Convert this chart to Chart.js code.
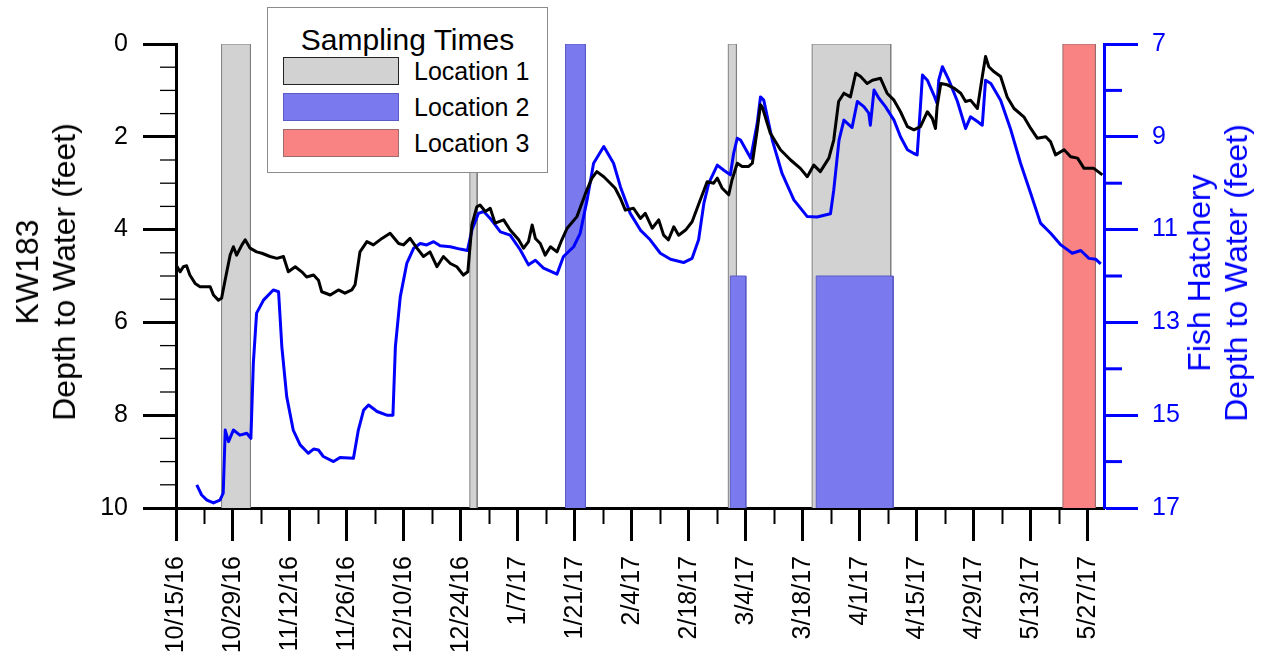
<!DOCTYPE html>
<html>
<head>
<meta charset="utf-8">
<script src="https://cdn.jsdelivr.net/npm/chart.js@4.4.1/dist/chart.umd.min.js"></script>
<style>
  body { margin: 0; background: #fff; font-family: 'Liberation Sans', Arial, sans-serif; }
  #wrap { position: relative; width: 1266px; height: 657px; overflow: hidden; }
  .ytitle {
    position: absolute; transform: translate(-50%, -50%) rotate(-90deg);
    white-space: nowrap; text-align: center; font-size: 32px; line-height: 37px;
  }
  #legend {
    position: absolute; left: 267px; top: 7px; width: 281px; height: 166px;
    border: 1px solid #8c8c8c; background: #fff; box-sizing: border-box;
  }
  #legend .title { position: absolute; left: 0; top: 15px; width: 100%; text-align: center; font-size: 30px; line-height: 34px; }
  #legend .sw { position: absolute; left: 15px; width: 116px; height: 28px; box-sizing: border-box; }
  #legend .lbl { position: absolute; left: 146px; font-size: 25px; line-height: 28px; }
</style>
</head>
<body>
<div id="wrap">
  <canvas id="chart"></canvas>
  <div class="ytitle" style="left:46px; top:272px;">KW183<br>Depth to Water (feet)</div>
  <div class="ytitle" style="left:1218px; top:273px; color:#0000ff;">Fish Hatchery<br>Depth to Water (feet)</div>
  <div id="legend">
    <div class="title">Sampling Times</div>
    <div class="sw" style="top:49px; background:#d2d2d2; border:1.5px solid #222;"></div>
    <div class="lbl" style="top:49px;">Location 1</div>
    <div class="sw" style="top:85px; background:#7a7aee; border:1px solid #5a5ac8;"></div>
    <div class="lbl" style="top:85px;">Location 2</div>
    <div class="sw" style="top:121px; background:#f98282; border:1px solid #9c6b6b;"></div>
    <div class="lbl" style="top:121px;">Location 3</div>
  </div>
</div>
<script>
// x values are days since 10/15/16
const tickDays = [0, 14, 28, 42, 56, 70, 84, 98, 112, 126, 140, 154, 168, 182, 196, 210, 224];
const tickLabels = ['10/15/16', '10/29/16', '11/12/16', '11/26/16', '12/10/16', '12/24/16', '1/7/17', '1/21/17',
    '2/4/17', '2/18/17', '3/4/17', '3/18/17', '4/1/17', '4/15/17', '4/29/17', '5/13/17', '5/27/17'];
const leftTicks = [0, 2, 4, 6, 8, 10];
const rightTicks = [7, 9, 11, 13, 15, 17];

// KW183 depth to water (left axis)
const kwDays = [0, 1.0, 1.8, 2.6, 3.4, 4.7, 5.9, 8.4, 9.2, 10.4,
    11.2, 12.0, 13.3, 14.1, 14.9, 16.2, 17.0, 18.2, 19.8, 21.1,
    23.1, 24.8, 26.4, 27.6, 29.3, 30.9, 32.1, 33.8, 35.0, 35.8,
    37.9, 39.9, 41.5, 43.2, 44.0, 45.2, 46.9, 48.5, 50.6, 52.6,
    54.7, 55.9, 57.5, 59.2, 60.8, 62.4, 64.1, 65.7, 67.4, 69.0,
    70.6, 71.7, 72.7, 73.9, 74.7, 76.0, 77.2, 78.4, 80.5, 82.1,
    84.2, 85.4, 86.6, 87.5, 88.3, 89.5, 90.7, 92.0, 93.6, 94.8,
    96.1, 98.5, 100.6, 102.2, 103.4, 105.1, 106.7, 107.9, 109.2, 110.4,
    112.4, 114.1, 115.3, 117.0, 118.6, 119.8, 121.0, 122.3, 123.5, 125.2,
    126.8, 128.8, 130.5, 132.1, 133.0, 134.2, 135.8, 136.6, 137.9, 139.1,
    140.7, 141.6, 142.8, 143.6, 144.0, 146.0, 148.5, 151.0, 153.4, 155.1,
    156.7, 158.3, 160.4, 161.6, 162.8, 164.1, 165.7, 167.0, 168.2, 169.8,
    171.1, 173.1, 174.7, 176.4, 178.0, 179.7, 181.3, 182.9, 184.6, 185.8,
    186.6, 187.0, 187.9, 189.5, 191.1, 192.8, 194.0, 195.2, 196.9, 198.1,
    198.9, 199.7, 201.0, 202.6, 204.2, 205.9, 208.3, 210.0, 211.6, 213.7,
    214.9, 216.1, 218.2, 219.8, 221.5, 223.1, 225.5, 227.6];
const kwDepth = [4.76, 4.91, 4.80, 4.78, 4.98, 5.16, 5.23, 5.23, 5.41, 5.52,
    5.48, 5.12, 4.55, 4.37, 4.55, 4.33, 4.22, 4.40, 4.48, 4.51,
    4.58, 4.62, 4.58, 4.91, 4.80, 4.91, 5.02, 4.98, 5.09, 5.34,
    5.41, 5.30, 5.37, 5.30, 5.19, 4.48, 4.26, 4.33, 4.19, 4.08,
    4.30, 4.33, 4.19, 4.40, 4.58, 4.48, 4.80, 4.58, 4.73, 4.80,
    4.98, 4.91, 3.90, 3.51, 3.47, 3.61, 3.54, 3.86, 3.79, 4.01,
    4.22, 4.40, 4.26, 3.90, 4.19, 4.30, 4.55, 4.37, 4.48, 4.22,
    3.97, 3.72, 3.22, 2.89, 2.75, 2.86, 3.00, 3.11, 3.33, 3.58,
    3.54, 3.76, 3.65, 3.97, 3.79, 4.12, 4.22, 3.94, 4.12, 4.01,
    3.83, 3.36, 2.97, 3.00, 2.89, 3.11, 3.25, 2.93, 2.57, 2.64,
    2.64, 2.57, 1.85, 1.31, 1.35, 1.92, 2.28, 2.50, 2.68, 2.86,
    2.61, 2.75, 2.46, 2.07, 1.24, 1.06, 1.14, 0.63, 0.70, 0.85,
    0.78, 0.74, 1.06, 1.21, 1.46, 1.78, 1.85, 1.78, 1.46, 1.60,
    1.82, 1.35, 0.85, 0.88, 0.95, 1.06, 1.24, 1.21, 1.39, 0.70,
    0.27, 0.49, 0.60, 0.70, 1.14, 1.39, 1.57, 1.82, 2.03, 2.00,
    2.11, 2.39, 2.28, 2.43, 2.46, 2.68, 2.68, 2.82];

// Fish Hatchery depth to water (right axis)
const fhDays = [5.1, 6.3, 7.6, 9.2, 10.8, 11.6, 12.1, 12.9, 14.1, 15.7,
    17.4, 18.4, 19.0, 19.8, 21.5, 23.9, 25.2, 26.0, 27.2, 28.8,
    30.5, 32.5, 33.8, 35.0, 36.2, 38.7, 40.3, 43.6, 44.8, 46.1,
    47.3, 49.4, 51.8, 53.3, 53.9, 55.1, 56.7, 58.4, 60.0, 61.6,
    63.3, 64.9, 67.4, 69.8, 71.6, 72.7, 74.3, 75.6, 77.2, 79.7,
    82.1, 84.6, 86.6, 88.3, 90.3, 93.6, 95.2, 97.7, 99.3, 101.0,
    102.6, 105.1, 107.5, 109.2, 111.6, 114.1, 116.5, 119.0, 121.5, 124.7,
    126.8, 128.4, 129.7, 130.9, 133.0, 134.6, 136.2, 137.0, 137.9, 138.7,
    141.2, 142.8, 143.6, 144.4, 146.5, 148.9, 151.8, 155.1, 157.5, 160.8,
    161.6, 162.9, 164.1, 166.1, 167.4, 169.0, 170.2, 170.6, 171.5, 172.7,
    174.3, 176.4, 178.0, 179.7, 181.3, 182.1, 182.9, 183.4, 184.6, 186.2,
    187.0, 187.4, 188.3, 189.9, 192.0, 194.0, 195.2, 196.9, 198.1, 198.9,
    200.2, 202.6, 205.1, 207.5, 210.0, 212.4, 214.9, 217.4, 220.2, 222.3,
    224.3, 226.0, 227.2];
const fhDepth = [16.50, 16.72, 16.83, 16.89, 16.83, 16.68, 15.32, 15.57, 15.32, 15.43,
    15.39, 15.50, 13.88, 12.80, 12.52, 12.30, 12.34, 13.52, 14.60, 15.32,
    15.64, 15.82, 15.73, 15.75, 15.89, 16.00, 15.91, 15.93, 15.32, 14.89,
    14.78, 14.92, 15.00, 15.00, 13.52, 12.45, 11.73, 11.40, 11.30, 11.33,
    11.26, 11.35, 11.37, 11.42, 11.45, 11.01, 10.65, 10.61, 10.76, 11.05,
    11.12, 11.44, 11.76, 11.66, 11.83, 11.96, 11.58, 11.37, 11.08, 10.36,
    9.57, 9.21, 9.57, 10.08, 10.65, 11.01, 11.22, 11.51, 11.64, 11.71,
    11.62, 11.22, 10.43, 10.00, 9.61, 9.72, 9.82, 9.36, 9.03, 9.07,
    9.46, 8.71, 8.14, 8.21, 9.07, 9.79, 10.36, 10.72, 10.73, 10.66,
    10.15, 9.07, 8.64, 8.80, 8.24, 8.35, 8.49, 8.75, 7.99, 8.17,
    8.35, 8.64, 9.00, 9.28, 9.36, 9.39, 8.35, 7.67, 7.78, 8.10,
    8.28, 7.78, 7.49, 7.78, 8.24, 8.82, 8.57, 8.67, 8.75, 7.78,
    7.85, 8.21, 8.85, 9.57, 10.22, 10.86, 11.08, 11.33, 11.51, 11.45,
    11.62, 11.64, 11.74];

// sampling windows (days), top edge in left-axis units
const loc1Start = [11.2, 72.2, 135.7, 156.3];
const loc1End = [18.3, 74.0, 137.7, 175.6];
const loc1Top = [0, 0, 0, 0];
const loc2Start = [95.7, 136.2, 157.3];
const loc2End = [100.6, 140.0, 176.2];
const loc2Top = [0, 5, 5];
const loc3Start = [217.9];
const loc3End = [225.9];
const loc3Top = [0];

function windowSets(starts, ends, tops, fillColor, edgeColor, order) {
    return starts.map((s, i) => ({
        data: [{ x: s, y: 10 }, { x: s, y: tops[i] }, { x: ends[i], y: tops[i] }, { x: ends[i], y: 10 }],
        yAxisID: 'y',
        borderColor: edgeColor,
        borderWidth: 1,
        backgroundColor: fillColor,
        fill: { value: 10 },
        pointRadius: 0,
        tension: 0,
        order: order
    }));
}

// short ticks between the labelled ones
const minorTicks = {
    id: 'minorTicks',
    afterDraw(chart) {
        const { ctx } = chart;
        const { x, y, y2 } = chart.scales;
        ctx.save();
        ctx.lineCap = 'butt';

        ctx.strokeStyle = '#000';
        ctx.lineWidth = 2;
        tickDays.forEach(d => {
            if (d + 7 > 228) return;
            const px = Math.round(x.getPixelForValue(d + 7)) + 0.5;
            ctx.beginPath(); ctx.moveTo(px, x.top); ctx.lineTo(px, x.top + 16); ctx.stroke();
        });

        ctx.lineWidth = 1.3;
        for (let v = 0.5; v < 10; v += 0.5) {
            if (v % 2 === 0) continue;
            const py = y.getPixelForValue(v);
            ctx.beginPath(); ctx.moveTo(y.right, py); ctx.lineTo(y.right - 16, py); ctx.stroke();
        }

        ctx.strokeStyle = '#0000ff';
        ctx.lineWidth = 3;
        for (let v = 8; v < 17; v += 2) {
            const py = y2.getPixelForValue(v);
            ctx.beginPath(); ctx.moveTo(y2.left, py); ctx.lineTo(y2.left + 18, py); ctx.stroke();
        }
        ctx.restore();
    }
};

Chart.defaults.font.family = "'Liberation Sans', Arial, sans-serif";

new Chart(document.getElementById('chart'), {
    type: 'line',
    data: {
        datasets: [{
            label: 'KW183',
            data: kwDays.map((d, i) => ({ x: d, y: kwDepth[i] })),
            yAxisID: 'y',
            borderColor: '#000',
            borderWidth: 3,
            borderJoinStyle: 'round',
            pointRadius: 0,
            tension: 0,
            fill: false,
            order: 0
        }, {
            label: 'Fish Hatchery',
            data: fhDays.map((d, i) => ({ x: d, y: fhDepth[i] })),
            yAxisID: 'y2',
            borderColor: '#0000ff',
            borderWidth: 3,
            borderJoinStyle: 'round',
            pointRadius: 0,
            tension: 0,
            fill: false,
            order: 0
        },
        ...windowSets(loc2Start, loc2End, loc2Top, '#7a7aee', '#5a5ac8', 1),
        ...windowSets(loc3Start, loc3End, loc3Top, '#f98282', '#9c6b6b', 1),
        ...windowSets(loc1Start, loc1End, loc1Top, '#d2d2d2', '#7f7f7f', 2)
        ]
    },
    options: {
        responsive: true,
        maintainAspectRatio: false,
        animation: false,
        layout: { padding: { top: 44, left: 0, right: 0, bottom: 0 } },
        plugins: { legend: { display: false }, tooltip: { enabled: false } },
        scales: {
            x: {
                type: 'linear', min: 0, max: 228,
                afterBuildTicks: s => { s.ticks = tickDays.map(v => ({ value: v })); },
                afterFit: s => { s.height = 149; },
                ticks: {
                    autoSkip: false, minRotation: 90, maxRotation: 90, padding: 15,
                    color: '#000', font: { size: 25 },
                    callback: v => tickLabels[tickDays.indexOf(v)]
                },
                grid: { drawOnChartArea: false, tickLength: 33, tickWidth: 3, tickColor: '#000' },
                border: { color: '#000', width: 3 }
            },
            y: {
                type: 'linear', position: 'left', reverse: true, min: 0, max: 10,
                afterBuildTicks: s => { s.ticks = leftTicks.map(v => ({ value: v })); },
                afterFit: s => { s.width = 176; },
                ticks: { padding: 15, color: '#000', font: { size: 25 } },
                grid: { drawOnChartArea: false, tickLength: 33, tickWidth: 3, tickColor: '#000' },
                border: { color: '#000', width: 3 }
            },
            y2: {
                type: 'linear', position: 'right', reverse: true, min: 7, max: 17,
                afterBuildTicks: s => { s.ticks = rightTicks.map(v => ({ value: v })); },
                afterFit: s => { s.width = 162; },
                ticks: { padding: 14, color: '#0000ff', font: { size: 25 } },
                grid: { drawOnChartArea: false, tickLength: 34, tickWidth: 3, tickColor: '#0000ff' },
                border: { color: '#0000ff', width: 3 }
            }
        }
    },
    plugins: [minorTicks]
});
</script>
</body>
</html>
